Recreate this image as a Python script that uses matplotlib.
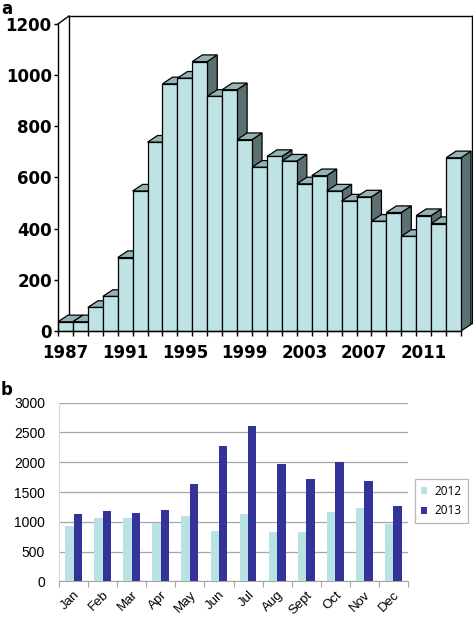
import matplotlib
matplotlib.use("Agg")
import matplotlib.pyplot as plt
from matplotlib.patches import Polygon
from matplotlib.lines import Line2D

# ---------------- data ----------------
years = list(range(1987, 2014))
counts = [36, 36, 92, 135, 287, 547, 738, 966, 988, 1053, 917, 943, 748, 640,
          682, 664, 575, 607, 547, 508, 524, 429, 463, 370, 451, 420, 677]
year_labels = ["1987", "1991", "1995", "1999", "2003", "2007", "2011"]
a_yticks = [0, 200, 400, 600, 800, 1000, 1200]

months = ["Jan", "Feb", "Mar", "Apr", "May", "Jun", "Jul", "Aug", "Sept",
          "Oct", "Nov", "Dec"]
v2012 = [929, 1069, 1058, 985, 1103, 851, 1125, 828, 823, 1159, 1237, 968]
v2013 = [1131, 1187, 1147, 1203, 1634, 2267, 2603, 1965, 1718, 2004, 1685, 1259]
series_names = ["2012", "2013"]
b_yticks = [0, 500, 1000, 1500, 2000, 2500, 3000]

# ---------------- figure ----------------
W, H = 473, 619
fig = plt.figure(figsize=(W / 100, H / 100), dpi=100)


def frac(l, t, r, b):
    return [l / W, 1 - b / H, (r - l) / W, (b - t) / H]


FRONT = "#bfe2e4"
TOP = "#93b3b5"
SIDE = "#5c6f71"

# ---------------- panel a ----------------
n = len(counts)
dx, dy = 0.67, 26      # bar depth offset (data units)
wx, wy = 0.737, 31     # back-wall offset
axa = fig.add_axes(frac(58, 15, 472, 331))
axa.set_xlim(0, n + wx)
axa.set_ylim(0, 1235)

# back wall lines
wall_kw = dict(color="black", lw=1.0, zorder=1, clip_on=False)
axa.add_line(Line2D([0, wx], [1200, 1200 + wy], **wall_kw))
axa.add_line(Line2D([wx, n + wx], [1200 + wy, 1200 + wy], **wall_kw))
axa.add_line(Line2D([n + wx, n + wx], [1200 + wy, wy], **wall_kw))
axa.add_line(Line2D([wx, wx], [1200 + wy, wy], **wall_kw))
axa.add_line(Line2D([wx, n + wx], [wy, wy], **wall_kw))

xs = list(range(n))
bars = axa.bar(xs, counts, width=1.0, align="edge", color=FRONT,
               edgecolor="black", linewidth=0.9, clip_on=False)
for i, (x, v) in enumerate(zip(xs, counts)):
    z = 3 + 3 * i
    side = Polygon([(x + 1, 0), (x + 1 + dx, dy), (x + 1 + dx, v + dy), (x + 1, v)],
                   closed=True, facecolor=SIDE, edgecolor="black", lw=0.9,
                   zorder=z, clip_on=False)
    top = Polygon([(x, v), (x + 1, v), (x + 1 + dx, v + dy), (x + dx, v + dy)],
                  closed=True, facecolor=TOP, edgecolor="black", lw=0.9,
                  zorder=z + 1, clip_on=False)
    axa.add_patch(side)
    axa.add_patch(top)
    bars[i].set_zorder(z + 2)

for s in ["top", "right"]:
    axa.spines[s].set_visible(False)
axa.spines["left"].set_bounds(0, 1200)
axa.spines["bottom"].set_bounds(0, n)
axa.spines["left"].set_zorder(200)
axa.spines["bottom"].set_zorder(200)
axa.spines["left"].set_linewidth(1.0)
axa.spines["bottom"].set_linewidth(1.0)
axa.set_yticks(a_yticks)
axa.set_yticklabels([str(t) for t in a_yticks], fontsize=12, fontweight="bold",
                    family="DejaVu Sans")
axa.tick_params(axis="y", direction="out", length=3, width=1, pad=1.5)
axa.set_xticks(list(range(n + 1)))
axa.set_xticklabels([])
axa.tick_params(axis="x", which="major", direction="out", length=3.5, width=1)
lab_pos = [years.index(int(y)) + 0.5 for y in year_labels]
axa.set_xticks(lab_pos, minor=True)
axa.set_xticklabels(year_labels, minor=True, fontsize=12, fontweight="bold",
                    family="DejaVu Sans")
axa.tick_params(axis="x", which="minor", length=0, pad=9)
fig.text(1 / W, 1 - 0 / H, "a", fontsize=12, fontweight="bold", va="top",
         ha="left", family="DejaVu Sans")

# ---------------- panel b ----------------
axb = fig.add_axes(frac(59, 402.7, 408, 581.3))
m = len(months)
bw = 0.29
centers = [i + 0.5 for i in range(m)]
axb.bar([c - bw / 2 for c in centers], v2012, width=bw, color="#b8e2e3",
        label=series_names[0], zorder=3)
axb.bar([c + bw / 2 for c in centers], v2013, width=bw, color="#333399",
        label=series_names[1], zorder=3)
axb.set_xlim(0, m)
axb.set_ylim(0, 3000)
axb.set_yticks(b_yticks)
axb.set_yticklabels([str(t) for t in b_yticks], fontsize=10,
                    family="Liberation Sans")
axb.yaxis.grid(True, color="#a6a6a6", lw=0.9, zorder=0)
axb.set_axisbelow(True)
axb.tick_params(axis="y", length=0, pad=10)
for s in ["top", "right"]:
    axb.spines[s].set_visible(False)
axb.spines["left"].set_color("#d9d9d9")
axb.spines["bottom"].set_color("#a6a6a6")
axb.set_xticks(list(range(m + 1)))
axb.set_xticklabels([])
axb.tick_params(axis="x", which="major", direction="out", length=4,
                color="#a6a6a6")
axb.set_xticks(centers, minor=True)
axb.set_xticklabels(months, minor=True, rotation=45, ha="right", va="top",
                    rotation_mode="anchor", fontsize=9.5,
                    family="Liberation Sans")
axb.tick_params(axis="x", which="minor", length=0, pad=5.5)

leg = fig.legend(loc="upper left", bbox_to_anchor=(415 / W, 1 - 479 / H),
                 bbox_transform=fig.transFigure, borderaxespad=0, frameon=True,
                 fancybox=False, edgecolor="#a6a6a6",
                 prop={"family": "Open Sans", "size": 8.5},
                 handlelength=0.55, handleheight=0.55, handletextpad=0.6,
                 borderpad=0.5, labelspacing=0.55)
leg.get_frame().set_linewidth(0.9)
fig.text(1 / W, 1 - 381 / H, "b", fontsize=12, fontweight="bold", va="top",
         ha="left", family="DejaVu Sans")

fig.savefig("out.png", dpi=100)
